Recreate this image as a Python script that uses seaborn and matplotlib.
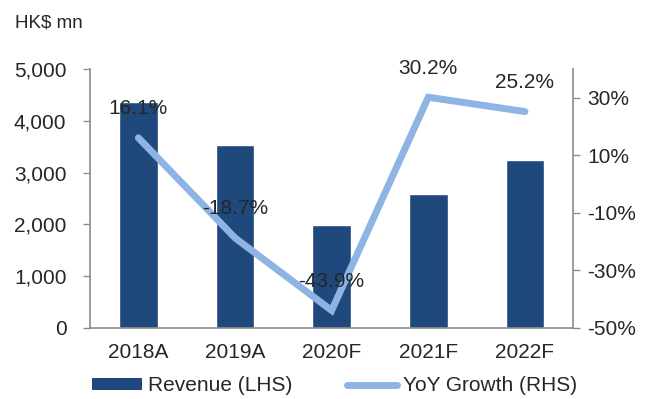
import numpy as np
import pandas as pd
import matplotlib
matplotlib.use("Agg")
import matplotlib.pyplot as plt
import seaborn as sns
from matplotlib.lines import Line2D
from matplotlib.patches import Patch
from matplotlib.ticker import FuncFormatter, FixedLocator

# Revenue and year-on-year growth
years = ["2018A", "2019A", "2020F", "2021F", "2022F"]
revenue = [4360, 3540, 1985, 2585, 3235]          # HK$ mn
growth = [16.1, -18.7, -43.9, 30.2, 25.2]          # %
growth_labels = ["16.1%", "-18.7%", "-43.9%", "30.2%", "25.2%"]

bar_color = "#1F497D"
line_color = "#8DB4E3"
axis_color = "#8C8C8C"
text_color = "#262626"
fs = 15

sns.set_theme(style="white")
plt.rcParams["font.family"] = ["Liberation Sans", "DejaVu Sans"]

df = pd.DataFrame({"year": years, "revenue": revenue, "growth": growth})
pos = np.arange(len(years))

fig = plt.figure(figsize=(6.5, 3.99), dpi=100)
ax = fig.add_axes([0.1385, 0.178, 0.882 - 0.1385, 0.827 - 0.178])

sns.barplot(data=df, x="year", y="revenue", color=bar_color, width=0.4,
            saturation=1, ax=ax, zorder=2)
ax.set_xlim(-0.5, len(years) - 0.5)
ax.set_ylim(0, 5000)
ax.set_xlabel("")
ax.set_ylabel("")
ax.set_yticks([0, 1000, 2000, 3000, 4000, 5000])
ax.yaxis.set_major_formatter(FuncFormatter(lambda v, _: f"{v:,.0f}"))

# category labels centred under bars, tick marks at category boundaries
ax.set_xticks(pos)
ax.set_xticklabels(years)
ax.xaxis.set_minor_locator(FixedLocator(np.arange(-0.5, len(years), 1.0)))
ax.tick_params(axis="x", which="major", length=0, pad=11, labelsize=fs, labelcolor=text_color)
ax.tick_params(axis="x", which="minor", length=5, width=1, color=axis_color, direction="out")
ax.tick_params(axis="y", length=5, width=1, color=axis_color, direction="out",
               pad=12, labelsize=fs, labelcolor=text_color, left=True)

for side in ["top", "right"]:
    ax.spines[side].set_visible(False)
for side in ["left", "bottom"]:
    ax.spines[side].set_color(axis_color)
    ax.spines[side].set_linewidth(1.2)

ax2 = ax.twinx()
sns.lineplot(x=pos, y=df["growth"].values, ax=ax2, color=line_color,
             linewidth=5, solid_joinstyle="miter", zorder=3)
ax2.set_ylim(-50, 40)
ax2.set_yticks([-50, -30, -10, 10, 30])
ax2.yaxis.set_major_formatter(FuncFormatter(lambda v, _: f"{v:.0f}%"))
ax2.tick_params(axis="y", length=5, width=1, color=axis_color, direction="out",
                pad=5, labelsize=fs, labelcolor=text_color, right=True)
for side in ["top", "left", "bottom"]:
    ax2.spines[side].set_visible(False)
ax2.spines["right"].set_color(axis_color)
ax2.spines["right"].set_linewidth(1.2)

for x, g, lab in zip(pos, growth, growth_labels):
    ax2.annotate(lab, (x, g), xytext=(0, 21), textcoords="offset points",
                 ha="center", va="center", fontsize=fs, color=text_color, zorder=4)

fig.text(0.023, 0.942, "HK$ mn", fontsize=13.5, color=text_color, ha="left", va="center")

handles = [Patch(facecolor=bar_color, edgecolor="none"),
           Line2D([0], [0], color=line_color, linewidth=5)]
fig.legend(handles, ["Revenue (LHS)", "YoY Growth (RHS)"], loc="center",
           bbox_to_anchor=(0.515, 0.033), ncol=2, frameon=False, fontsize=fs,
           handlelength=2.4, handleheight=0.55, handletextpad=0.3,
           columnspacing=2.6, labelcolor=text_color)

fig.savefig("out.png", dpi=100)
